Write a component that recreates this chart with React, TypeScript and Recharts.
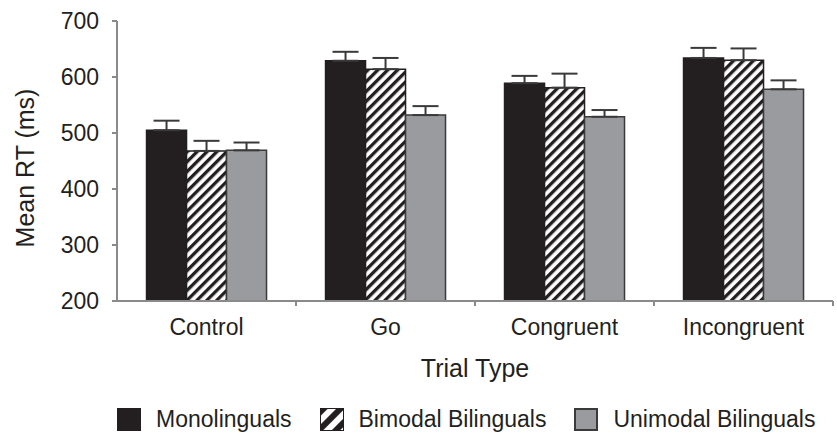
import { BarChart, Bar, XAxis, YAxis, ErrorBar, Legend } from 'recharts'

const categories = ['Control', 'Go', 'Congruent', 'Incongruent']
const monolinguals = [505, 629, 589, 634]
const monolingualsErr = [17, 16, 13, 18]
const bimodal = [468, 614, 581, 630]
const bimodalErr = [18, 20, 25, 21]
const unimodal = [469, 532, 529, 578]
const unimodalErr = [14, 16, 12, 16]
const yTicks = [200, 300, 400, 500, 600, 700]

const FONT = '"Liberation Sans", Arial, sans-serif'
const TEXT = '#231f20'
const AXIS = '#8a8a8a'
const TICK_SIZE = 5
const TICK_MARGIN = 13

const data = categories.map((name, i) => ({
  name,
  mono: monolinguals[i],
  monoErr: [0, monolingualsErr[i]],
  bi: bimodal[i],
  biErr: [0, bimodalErr[i]],
  uni: unimodal[i],
  uniErr: [0, unimodalErr[i]],
}))

const legendItems = [
  { label: 'Monolinguals', kind: 'mono' },
  { label: 'Bimodal Bilinguals', kind: 'bi' },
  { label: 'Unimodal Bilinguals', kind: 'uni' },
]

function LegendSwatch({ kind }: { kind: string }) {
  return (
    <svg width={24} height={23} style={{ display: 'block' }}>
      <defs>
        <pattern id="legendHatch" width={12} height={12} patternUnits="userSpaceOnUse" patternTransform="rotate(45)">
          <rect width={12} height={12} fill="#fff" />
          <rect width={6} height={12} fill="#231f20" />
        </pattern>
      </defs>
      {kind === 'mono' && <rect x={0} y={0} width={24} height={23} fill="#231f20" />}
      {kind === 'bi' && <rect x={0.5} y={0.5} width={23} height={22} fill="url(#legendHatch)" stroke="#231f20" />}
      {kind === 'uni' && <rect x={1} y={1} width={22} height={21} fill="#9a9b9f" stroke="#3a3a3a" strokeWidth={2} />}
    </svg>
  )
}

function ChartLegend() {
  return (
    <div style={{ display: 'flex', alignItems: 'center', height: 34, paddingLeft: 117, paddingTop: 3, boxSizing: 'border-box', fontFamily: FONT, fontSize: 23, color: TEXT }}>
      {legendItems.map(item => (
        <div key={item.kind} style={{ display: 'flex', alignItems: 'center', marginRight: 28 }}>
          <LegendSwatch kind={item.kind} />
          <span style={{ marginLeft: 15, whiteSpace: 'nowrap' }}>{item.label}</span>
        </div>
      ))}
    </div>
  )
}

// category label plus a tick mark at the right edge of each category band
function CategoryTick(props: any) {
  const { x, y, payload } = props
  const axisY = y - TICK_SIZE - TICK_MARGIN
  const edge = x + (payload.offset ?? 0)
  return (
    <g>
      <line x1={edge} x2={edge} y1={axisY} y2={axisY + TICK_SIZE} stroke={AXIS} strokeWidth={2} />
      <text x={x} y={y} dy="0.71em" textAnchor="middle" fill={TEXT} fontSize={23} fontFamily={FONT}>
        {payload.value}
      </text>
    </g>
  )
}

export default function App() {
  return (
    <div style={{ position: 'absolute', left: 0, top: 0, width: 837, height: 435, background: '#fff' }}>
      <BarChart
        width={837}
        height={435}
        data={data}
        margin={{ top: 21, right: 4, bottom: 0, left: 0 }}
        barCategoryGap="16.5%"
        barGap={0}
      >
        <defs>
          <pattern id="hatch" width={7} height={7} patternUnits="userSpaceOnUse" patternTransform="rotate(45)">
            <rect width={7} height={7} fill="#fff" />
            <rect width={3.3} height={7} fill="#231f20" />
          </pattern>
        </defs>
        <XAxis
          dataKey="name"
          height={100}
          tickLine={false}
          axisLine={{ stroke: AXIS, strokeWidth: 2 }}
          tickSize={TICK_SIZE}
          tickMargin={TICK_MARGIN}
          tick={<CategoryTick />}
          label={{
            content: ({ viewBox }: any) => (
              <text x={viewBox.x + viewBox.width / 2} y={viewBox.y + 76} textAnchor="middle" fill={TEXT} fontSize={25} fontFamily={FONT}>
                Trial Type
              </text>
            ),
          }}
        />
        <YAxis
          width={117}
          domain={[200, 700]}
          ticks={yTicks}
          axisLine={{ stroke: AXIS, strokeWidth: 2 }}
          tickLine={{ stroke: AXIS, strokeWidth: 2 }}
          tickSize={TICK_SIZE}
          tickMargin={TICK_MARGIN}
          tick={{ fill: TEXT, fontSize: 23, fontFamily: FONT }}
          label={{
            content: ({ viewBox }: any) => {
              const cx = 25
              const cy = viewBox.y + viewBox.height / 2 + 7
              return (
                <text x={cx} y={cy} transform={`rotate(-90 ${cx} ${cy})`} textAnchor="middle" dominantBaseline="central" fill={TEXT} fontSize={25} fontFamily={FONT}>
                  Mean RT (ms)
                </text>
              )
            },
          }}
        />
        <Legend verticalAlign="bottom" content={() => <ChartLegend />} />
        <Bar dataKey="mono" fill="#231f20" stroke="#231f20" strokeWidth={1.5} isAnimationActive={false}>
          <ErrorBar dataKey="monoErr" width={13} stroke="#3a3a3a" strokeWidth={2} />
        </Bar>
        <Bar dataKey="bi" fill="url(#hatch)" stroke="#231f20" strokeWidth={1.5} isAnimationActive={false}>
          <ErrorBar dataKey="biErr" width={13} stroke="#3a3a3a" strokeWidth={2} />
        </Bar>
        <Bar dataKey="uni" fill="#9a9b9f" stroke="#3a3a3a" strokeWidth={1.5} isAnimationActive={false}>
          <ErrorBar dataKey="uniErr" width={13} stroke="#3a3a3a" strokeWidth={2} />
        </Bar>
      </BarChart>
    </div>
  )
}
